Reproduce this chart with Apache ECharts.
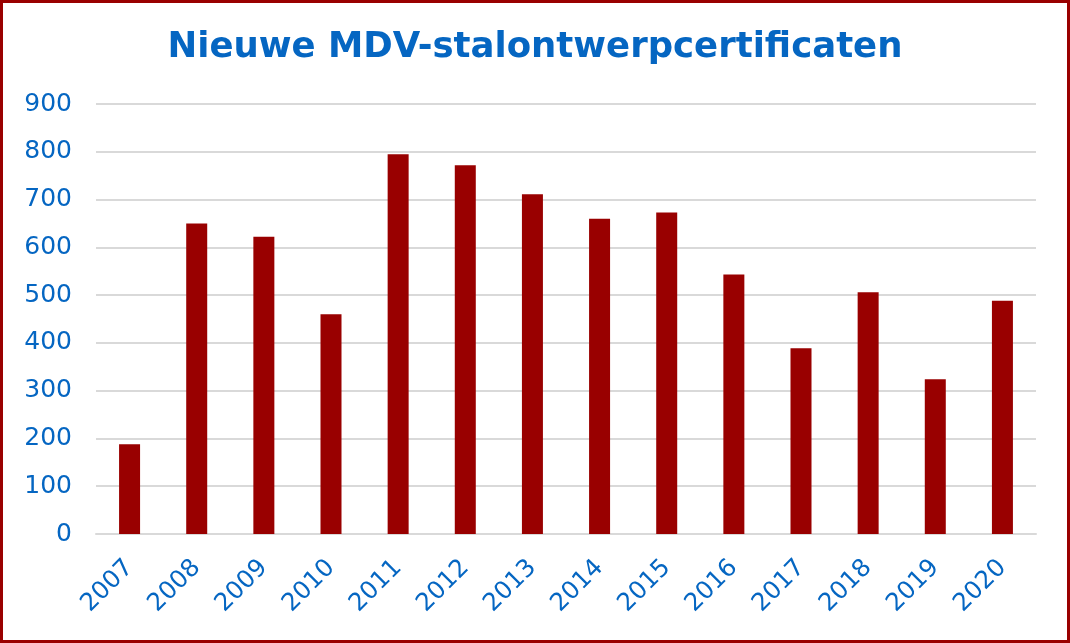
<!DOCTYPE html>
<html lang="nl" style="height: 100%">
<head>
  <meta charset="utf-8">
  <title>Nieuwe MDV-stalontwerpcertificaten</title>
</head>
<body style="height: 100%; margin: 0">
  <div id="container" style="height: 100%; box-sizing: border-box; border: 3px solid #990000; background: #fff"></div>

  <script type="text/javascript" src="https://cdn.jsdelivr.net/npm/echarts@6/dist/echarts.min.js"></script>

  <script type="text/javascript">
    var years = ['2007', '2008', '2009', '2010', '2011', '2012', '2013', '2014', '2015', '2016', '2017', '2018', '2019', '2020'];
    var certificates = [188, 650, 622, 460, 795, 772, 711, 660, 673, 543, 389, 506, 324, 488];
    var yTicks = { min: 0, max: 900, interval: 100 };

    var blue = '#0566c2';
    var font = 'DejaVu Sans, Verdana, sans-serif';

    var dom = document.getElementById('container');
    var myChart = echarts.init(dom, null, { renderer: 'canvas' });

    var option = {
      title: {
        text: 'Nieuwe MDV-stalontwerpcertificaten',
        left: 'center',
        top: 22,
        textStyle: { color: blue, fontFamily: font, fontWeight: 'bold', fontSize: 35.5 }
      },
      grid: { left: 93, right: 31, top: 101, bottom: 106 },
      xAxis: {
        type: 'category',
        data: years,
        axisLine: { lineStyle: { color: '#d9d9d9', width: 2 } },
        axisTick: { show: false },
        axisLabel: {
          rotate: 45,
          color: blue,
          fontFamily: font,
          fontSize: 24.5,
          margin: 30
        }
      },
      yAxis: {
        type: 'value',
        min: yTicks.min,
        max: yTicks.max,
        interval: yTicks.interval,
        axisLine: { show: false },
        axisTick: { show: false },
        splitLine: { lineStyle: { color: '#d9d9d9', width: 2 } },
        axisLabel: { color: blue, fontFamily: font, fontSize: 25, margin: 24 }
      },
      series: [
        {
          type: 'bar',
          data: certificates,
          barWidth: 21,
          itemStyle: { color: '#990000' }
        }
      ]
    };

    myChart.setOption(option);

    window.addEventListener('resize', function () {
      myChart.resize();
    });
  </script>
</body>
</html>
